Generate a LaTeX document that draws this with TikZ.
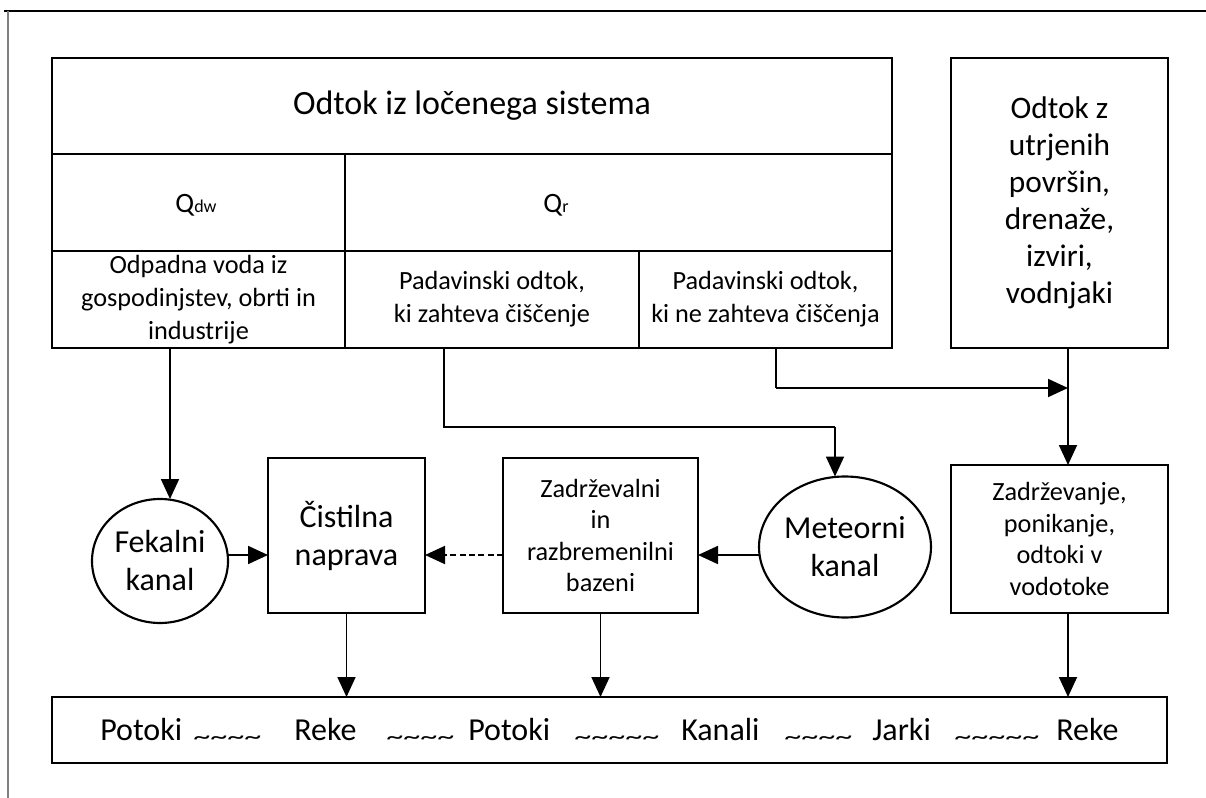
\documentclass[tikz,border=0pt]{standalone}
\usepackage{fontspec}
\setmainfont{Carlito}
\usetikzlibrary{arrows.meta,shapes.geometric}
\newcommand{\wv}{\scalebox{1.6}[1.1]{\textasciitilde}}
\begin{document}
\begin{tikzpicture}[x=0.75pt,y=-0.75pt,
  sz/.style 2 args={minimum width=#1*0.75pt, minimum height=#2*0.75pt},
  cell/.style={draw, line width=1.8pt, inner sep=0pt, outer sep=0pt, align=center},
  thinbox/.style={draw, line width=1.4pt, inner sep=0pt, outer sep=0pt, align=center},
  ring/.style={draw, ellipse, line width=1.6pt, inner sep=0pt, outer sep=0pt, align=center},
  arr/.style={line width=1.35pt, -{Triangle[length=15pt,width=13.5pt]}},
  plain/.style={line width=1.35pt},
  dsh/.style={arr, dash pattern=on 4.5pt off 2.5pt},
  ftitle/.style={font=\fontsize{25.5}{30}\selectfont},
  fcell/.style={font=\fontsize{19.7}{24.75}\selectfont},
  fbig/.style={font=\fontsize{24}{28.5}\selectfont},
  fright/.style={font=\fontsize{23.5}{27.75}\selectfont},
  fmid/.style={font=\fontsize{19.7}{23.6}\selectfont},
  word/.style={anchor=base west, inner sep=0pt, font=\fontsize{24}{28}\selectfont},
  wave/.style={anchor=base west, inner sep=0pt, font=\fontsize{16}{16}\selectfont},
  qlab/.style={inner sep=0pt, font=\fontsize{21}{24}\selectfont},
]
\useasboundingbox (0,0) rectangle (1206,798);
% frame
\draw[line width=1pt] (4,11) -- (1206,11);
\draw[line width=1.1pt, gray] (8,11) -- (8,798);

% table
\node[cell, sz={840}{96}, ftitle] (title) at (472,106) {Odtok iz ločenega sistema};
\node[cell, sz={293}{97}] (qdw) at (198.5,202.5) {};
\node[cell, sz={547}{97}] (qr) at (618.5,202.5) {};
\node[qlab] (qdwt) at (196,205) {Q{\fontsize{13.5}{14}\selectfont dw}};
\node[qlab] (qrt) at (556,205) {Q{\fontsize{13.5}{14}\selectfont r}};
\node[cell, sz={293}{97}, fcell] (ca) at (198.5,299.5) {Odpadna voda iz\\gospodinjstev, obrti in\\industrije};
\node[cell, sz={294}{97}, fcell] (cb) at (492,299.5) {Padavinski odtok,\\ki zahteva čiščenje};
\node[cell, sz={253}{97}, fcell] (cc) at (765.5,299.5) {Padavinski odtok,\\ki ne zahteva čiščenja};
\node[cell, sz={217}{290}, fright] (rb) at (1059.5,203) {Odtok z\\utrjenih\\površin,\\drenaže,\\izviri,\\vodnjaki};

% middle row
\node[ring, sz={136}{124}, fbig] (fek) at (160,561) {Fekalni\\kanal};
\node[cell, sz={157}{155}, fbig] (cist) at (346.5,535.5) {Čistilna\\naprava};
\node[thinbox, sz={195}{155}, fmid] (zad) at (600.5,535.5) {Zadrževalni\\in\\razbremenilni\\bazeni};
\node[ring, sz={138}{141}, fbig] (met) at (845,547) {Meteorni\\kanal};
\node[thinbox, sz={217}{148}, fmid] (zadr) at (1059.5,539) {Zadrževanje,\\ponikanje,\\odtoki v\\vodotoke};

% bottom
\node[cell, sz={1115}{66}] (bot) at (609.5,730) {};
\node[word] (w1) at (100,740) {Potoki};
\node[wave] (t1) at (193,744) {\wv\wv\wv\wv};
\node[word] (w2) at (294,740) {Reke};
\node[wave] (t2) at (386,744) {\wv\wv\wv\wv};
\node[word] (w3) at (468,740) {Potoki};
\node[wave] (t3) at (574,744) {\wv\wv\wv\wv\wv};
\node[word] (w4) at (681,740) {Kanali};
\node[wave] (t4) at (784,744) {\wv\wv\wv\wv};
\node[word] (w5) at (872,740) {Jarki};
\node[wave] (t5) at (954,744) {\wv\wv\wv\wv\wv};
\node[word] (w6) at (1056,740) {Reke};

% helper coordinates
\coordinate (xa) at (170,0);
\coordinate (xb) at (444,0);
\coordinate (xm) at (835,0);
\coordinate (xc) at (776,0);
\coordinate (xr) at (1068,0);
\coordinate (yb) at (0,427);
\coordinate (yc) at (0,388);
\coordinate (yh) at (0,555);
\coordinate (j) at (xr |- yc);

% connectors
\draw[arr] (xa |- ca.south) -- (xa |- fek.north);
\draw[plain] (xb |- cb.south) -- (xb |- yb) -- (xm |- yb);
\draw[arr] (xm |- yb) -- (xm |- met.north);
\draw[plain] (xc |- cc.south) -- (xc |- yc);
\draw[arr] (xc |- yc) -- (j);
\draw[arr] (xr |- rb.south) -- (xr |- zadr.north);
\draw[arr] (yh -| fek.east) -- (yh -| cist.west);
\draw[dsh] (yh -| zad.west) -- (yh -| cist.east);
\draw[arr] (yh -| met.west) -- (yh -| zad.east);
\draw[arr] (cist.south) -- (cist.south |- bot.north);
\draw[arr] (zad.south) -- (zad.south |- bot.north);
\draw[arr] (xr |- zadr.south) -- (xr |- bot.north);
\end{tikzpicture}
\end{document}
